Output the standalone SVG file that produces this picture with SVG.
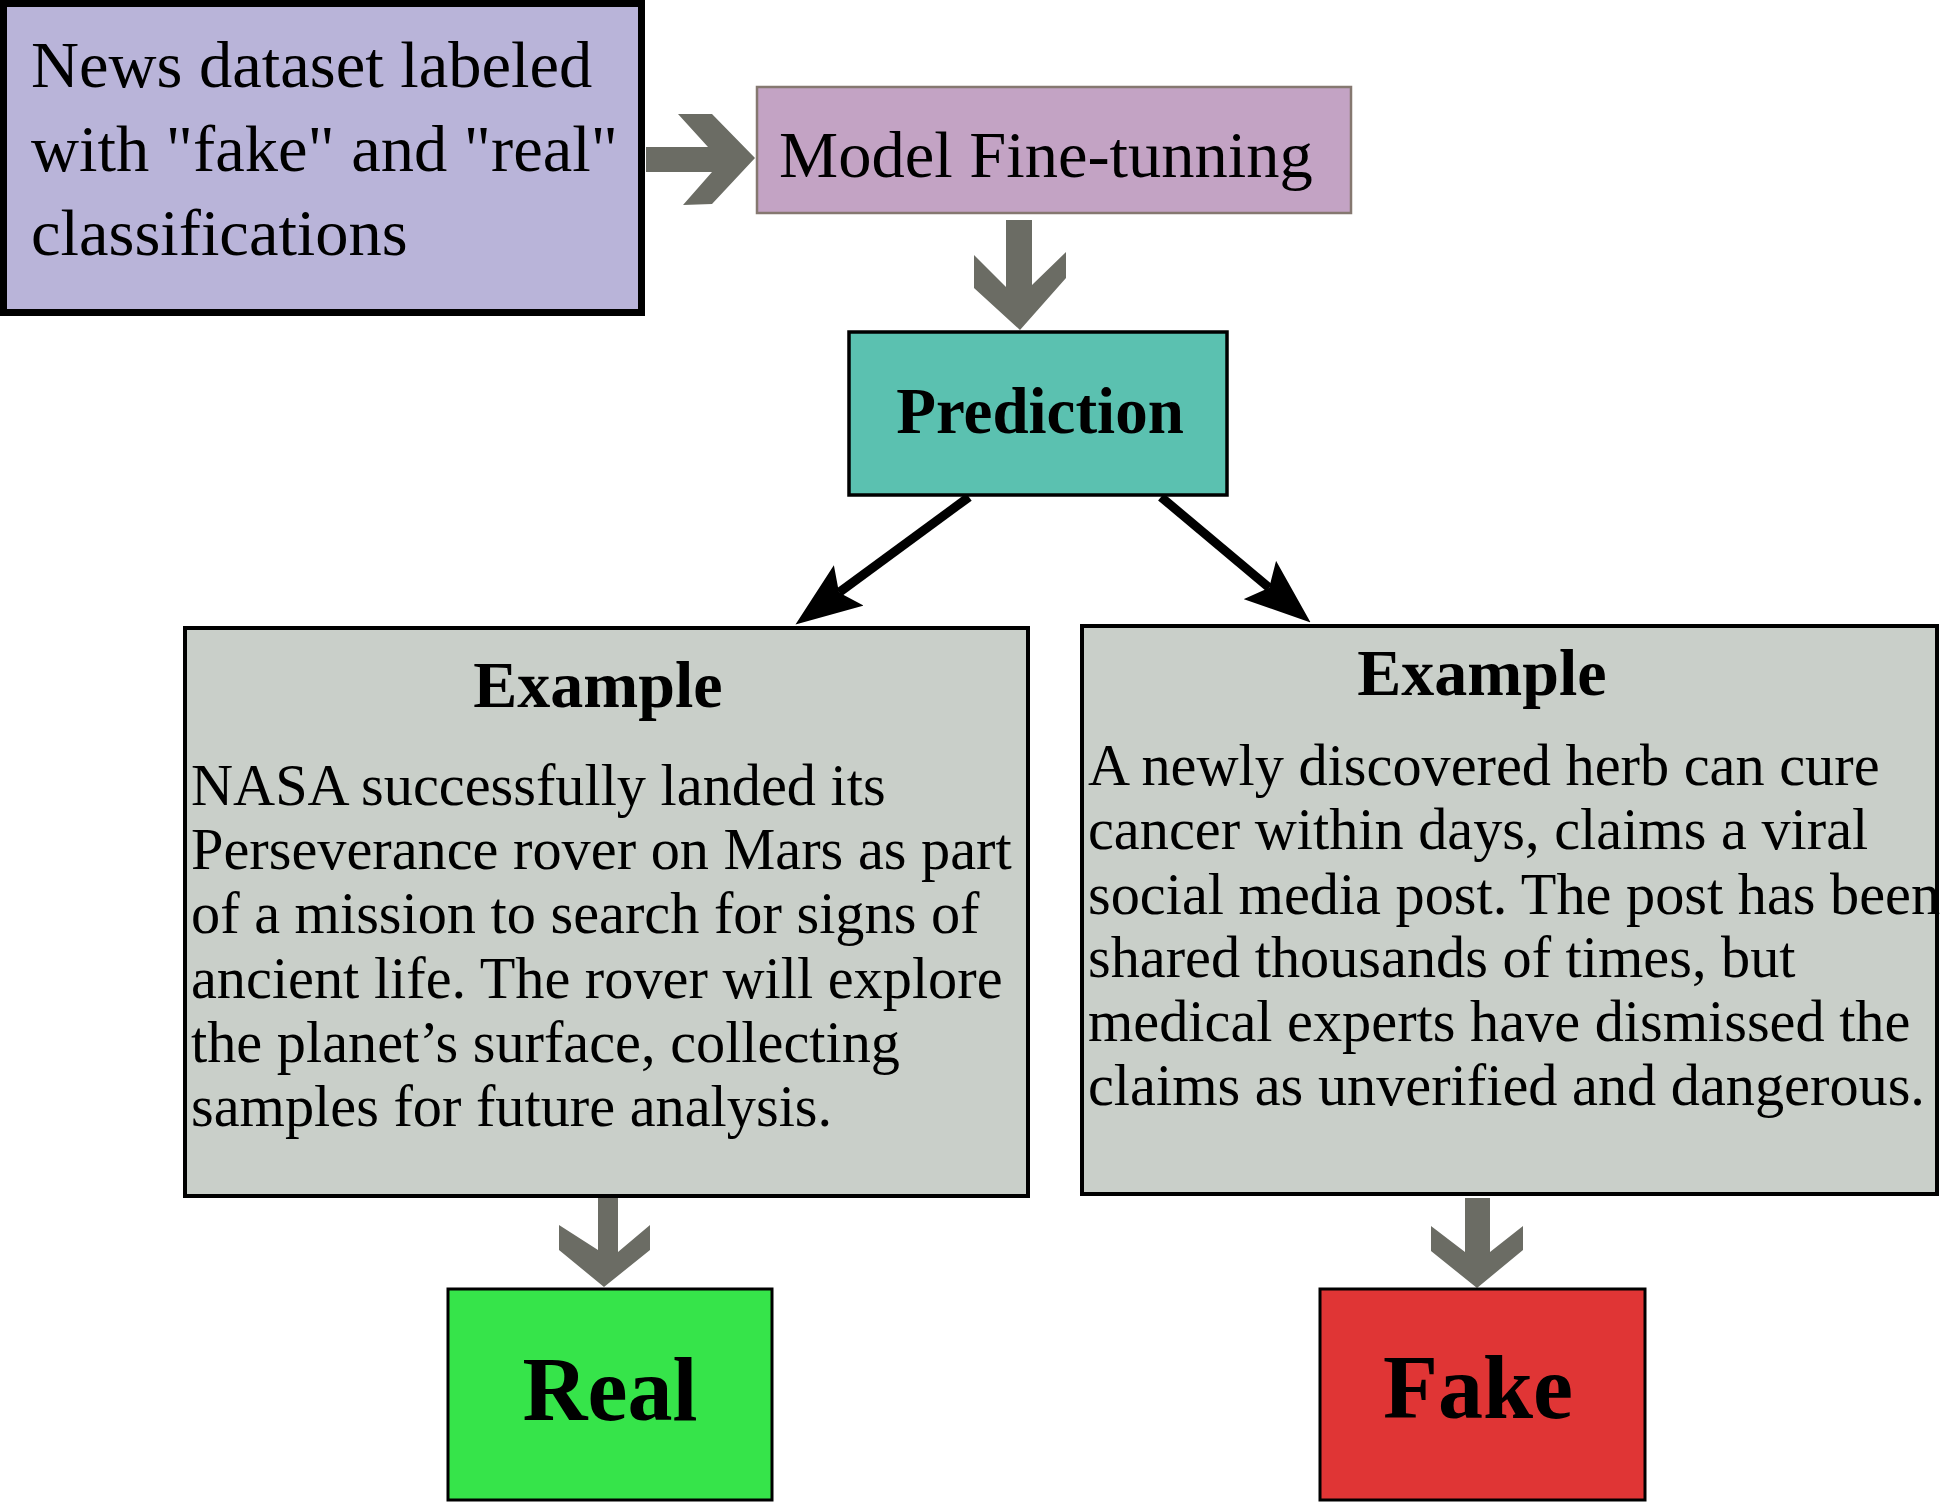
<svg xmlns="http://www.w3.org/2000/svg" width="1940" height="1502" viewBox="0 0 1940 1502">
<style>
  .t { font-family: "Liberation Serif", "Times New Roman", serif; fill: #000; }
  .reg { font-size: 66.5px; }
  .body { font-size: 58.3px; }
  .bold { font-weight: bold; }
  .grayarrow { fill: #6b6c64; }
  .blackline { stroke: #000; stroke-width: 9; fill: none; marker-end: url(#head); }
</style>
<defs>
  <marker id="head" viewBox="0 0 66 50" refX="12" refY="25" markerWidth="66" markerHeight="50" markerUnits="userSpaceOnUse" orient="auto">
    <path d="M66,25 L0,0 L12,25 L0,50 Z" fill="#000"/>
  </marker>
</defs>
<rect width="1940" height="1502" fill="#fff"/>

<g id="connectors">
  <polygon class="grayarrow" points="646,147 708,147 678,114 712,114 755,158 712,204 683,205 712,172 646,172"/>
  <polygon class="grayarrow" points="1006,220 1032,220 1032,285 1066,252 1066,278 1020,330 974,288 974,255 1006,287"/>
  <polygon class="grayarrow" points="598,1197 618,1197 618,1252 650,1225 650,1250 604,1287 559,1250 559,1225 598,1250"/>
  <polygon class="grayarrow" points="1465,1198 1490,1198 1490,1252 1523,1226 1523,1250 1477,1288 1431,1251 1431,1226 1465,1252"/>
  <line class="blackline" x1="969" y1="497" x2="839" y2="592.5"/>
  <line class="blackline" x1="1161" y1="497" x2="1269.2" y2="587.7"/>
</g>

<g id="dataset">
  <rect x="3.5" y="3.5" width="638" height="309" fill="#b9b4d9" stroke="#000" stroke-width="7"/>
  <text class="t reg" x="31" y="87">News dataset labeled</text>
  <text class="t reg" x="31" y="171">with "fake" and "real"</text>
  <text class="t reg" x="31" y="255">classifications</text>
</g>

<g id="finetune">
  <rect x="757" y="87" width="594" height="126" fill="#c3a3c4" stroke="#857870" stroke-width="2.5"/>
  <text class="t reg" x="779" y="177">Model Fine-tunning</text>
</g>

<g id="prediction">
  <rect x="849" y="332" width="378" height="163" fill="#5bc1b0" stroke="#000" stroke-width="3.5"/>
  <text class="t bold" x="1040" y="433" font-size="65" text-anchor="middle">Prediction</text>
</g>

<g id="example-real">
  <rect x="185" y="628" width="843" height="568" fill="#c9cfc9" stroke="#000" stroke-width="4"/>
  <text class="t bold" x="598" y="707" font-size="66" text-anchor="middle">Example</text>
  <text class="t body" x="191" y="805">NASA successfully landed its</text>
  <text class="t body" x="191" y="869">Perseverance rover on Mars as part</text>
  <text class="t body" x="191" y="933">of a mission to search for signs of</text>
  <text class="t body" x="191" y="998">ancient life. The rover will explore</text>
  <text class="t body" x="191" y="1062">the planet’s surface, collecting</text>
  <text class="t body" x="191" y="1126">samples for future analysis.</text>
</g>

<g id="example-fake">
  <rect x="1082" y="626" width="855" height="568" fill="#c9cfc9" stroke="#000" stroke-width="4"/>
  <text class="t bold" x="1482" y="695" font-size="66" text-anchor="middle">Example</text>
  <text class="t body" x="1088" y="785">A newly discovered herb can cure</text>
  <text class="t body" x="1088" y="849">cancer within days, claims a viral</text>
  <text class="t body" x="1088" y="914">social media post. The post has been</text>
  <text class="t body" x="1088" y="977">shared thousands of times, but</text>
  <text class="t body" x="1088" y="1041">medical experts have dismissed the</text>
  <text class="t body" x="1088" y="1105">claims as unverified and dangerous.</text>
</g>

<g id="real">
  <rect x="448" y="1289" width="324" height="211" fill="#36e44a" stroke="#000" stroke-width="3"/>
  <text class="t bold" x="610" y="1420" font-size="90" text-anchor="middle">Real</text>
</g>

<g id="fake">
  <rect x="1320" y="1289" width="325" height="211" fill="#e03535" stroke="#000" stroke-width="3"/>
  <text class="t bold" x="1478" y="1418" font-size="90" text-anchor="middle">Fake</text>
</g>
</svg>
